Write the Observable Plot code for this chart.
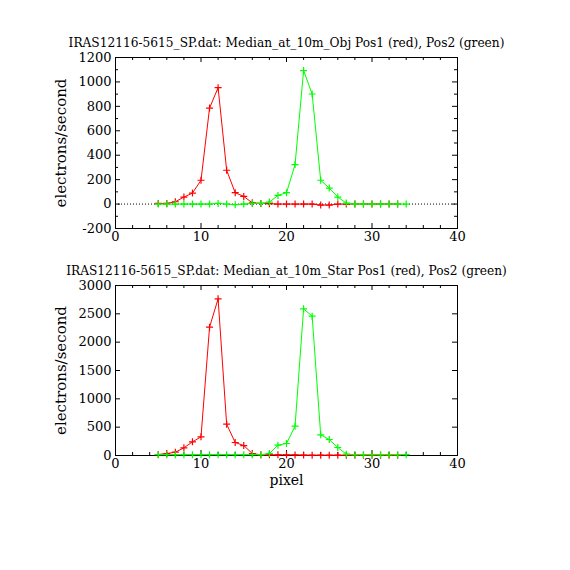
<!DOCTYPE html>
<html><head><meta charset="utf-8">
<script src="https://cdn.jsdelivr.net/npm/d3@7"></script>
<script src="https://cdn.jsdelivr.net/npm/@observablehq/plot@0.6"></script>
<style>body{margin:0;background:#fff}#c svg{display:block}</style>
</head><body><div id="c"></div>
<script>
// pixel positions
const pixelRed   = [5,6,7,8,9,10,11,12,13,14,15,16,17,18,19,20,21,22,23,24,25,26,27,28,29,30,31,32,33];
const pixelGreen = [5,6,7,8,9,10,11,12,13,14,15,16,17,18,19,20,21,22,23,24,25,26,27,28,29,30,31,32,33,34];

// Median_at_10m_Obj
const objPos1 = [5,5,19,57,90,195,786,953,277,93,63,10,5,3,0,0,0,0,0,-8,-8,0,0,0,0,0,0,0,0];
const objPos2 = [0,0,0,0,0,0,0,5,0,-5,0,5,5,16,71,93,323,1093,901,195,131,57,8,0,0,0,0,0,0,0];

// Median_at_10m_Star
const starPos1 = [18,35,59,135,241,329,2265,2765,553,229,176,35,12,12,12,12,10,8,5,5,5,5,5,5,5,5,5,5,5];
const starPos2 = [15,15,15,15,15,15,15,15,15,15,15,15,15,35,182,212,518,2588,2459,365,282,141,24,15,15,15,15,15,15,15];

const xMajor = [0,10,20,30,40];
const xMinor = [2,4,6,8,12,14,16,18,22,24,26,28,32,34,36,38];
const objYMajor = [-200,0,200,400,600,800,1000,1200];
const objYMinor = [-100,100,300,500,700,900,1100];
const starYMajor = [0,500,1000,1500,2000,2500,3000];

const titleObj = "IRAS12116-5615_SP.dat: Median_at_10m_Obj Pos1 (red), Pos2 (green)";
const titleStar = "IRAS12116-5615_SP.dat: Median_at_10m_Star Pos1 (red), Pos2 (green)";

const plusSymbol = {draw(ctx, size){const r = Math.sqrt(size/Math.PI); ctx.moveTo(-r,0); ctx.lineTo(r,0); ctx.moveTo(0,-r); ctx.lineTo(0,r);}};
const fmt = d => (d < 0 ? "-" : "") + Math.abs(d);

function panel({title, red, green, yDomain, yMajor, yMinor, height, marginTop, marginBottom, xLabel, zeroLine}) {
  const ph = height - marginTop - marginBottom;
  const pw = 570 - 115 - 113;
  const redData = pixelRed.map((x,i)=>({x, y: red[i]}));
  const greenData = pixelGreen.map((x,i)=>({x, y: green[i]}));
  const marks = [
    Plot.frame({stroke:"black"}),
    Plot.ruleX(xMajor, {insetTop: ph-5, stroke:"black"}),
    Plot.ruleX(xMajor, {insetBottom: ph-5, stroke:"black"}),
    Plot.ruleX(xMinor, {insetTop: ph-3, stroke:"black"}),
    Plot.ruleX(xMinor, {insetBottom: ph-3, stroke:"black"}),
    Plot.ruleY(yMajor, {insetRight: pw-5, stroke:"black"}),
    Plot.ruleY(yMajor, {insetLeft: pw-5, stroke:"black"}),
    Plot.ruleY(yMinor, {insetRight: pw-3, stroke:"black"}),
    Plot.ruleY(yMinor, {insetLeft: pw-3, stroke:"black"}),
    Plot.axisX({ticks: xMajor, tickSize: 0, tickPadding: 3, label: null, tickFormat: fmt, fontSize: 13}),
    Plot.axisY({ticks: yMajor, tickSize: 0, tickPadding: 4, label: null, tickFormat: fmt, fontSize: 13}),
    Plot.text([title], {frameAnchor:"top", dy:-19, fontSize: 12.2}),
    Plot.text(["electrons/second"], {frameAnchor:"left", textAnchor:"middle", rotate:-90, dx:-54, fontSize: 15}),
  ];
  if (zeroLine) marks.push(Plot.ruleY([0], {stroke:"black", strokeDasharray:"1,2"}));
  if (xLabel) marks.push(Plot.text([xLabel], {frameAnchor:"bottom", dy: 29, fontSize: 14}));
  marks.push(
    Plot.line(redData, {x:"x", y:"y", stroke:"#ff0000", strokeWidth:1}),
    Plot.dot(redData, {x:"x", y:"y", symbol: plusSymbol, r: 3.5, stroke:"#ff0000", fill:"none", strokeWidth:1.2}),
    Plot.line(greenData, {x:"x", y:"y", stroke:"#00ff00", strokeWidth:1}),
    Plot.dot(greenData, {x:"x", y:"y", symbol: plusSymbol, r: 3.5, stroke:"#00ff00", fill:"none", strokeWidth:1.2})
  );
  return Plot.plot({
    width: 570, height, marginLeft: 115, marginRight: 113, marginTop, marginBottom,
    style: {fontFamily: "DejaVu Serif", fontSize: "14px", background: "white", color: "black"},
    x: {domain: [0,40]},
    y: {domain: yDomain},
    marks
  });
}

const c = document.getElementById("c");
c.append(panel({title: titleObj, red: objPos1, green: objPos2, yDomain: [-200,1200], yMajor: objYMajor, yMinor: objYMinor, height: 250, marginTop: 57, marginBottom: 22, zeroLine: true}));
c.append(panel({title: titleStar, red: starPos1, green: starPos2, yDomain: [0,3000], yMajor: starYMajor, yMinor: [], height: 320, marginTop: 35, marginBottom: 115, xLabel: "pixel"}));
</script>
</body></html>
